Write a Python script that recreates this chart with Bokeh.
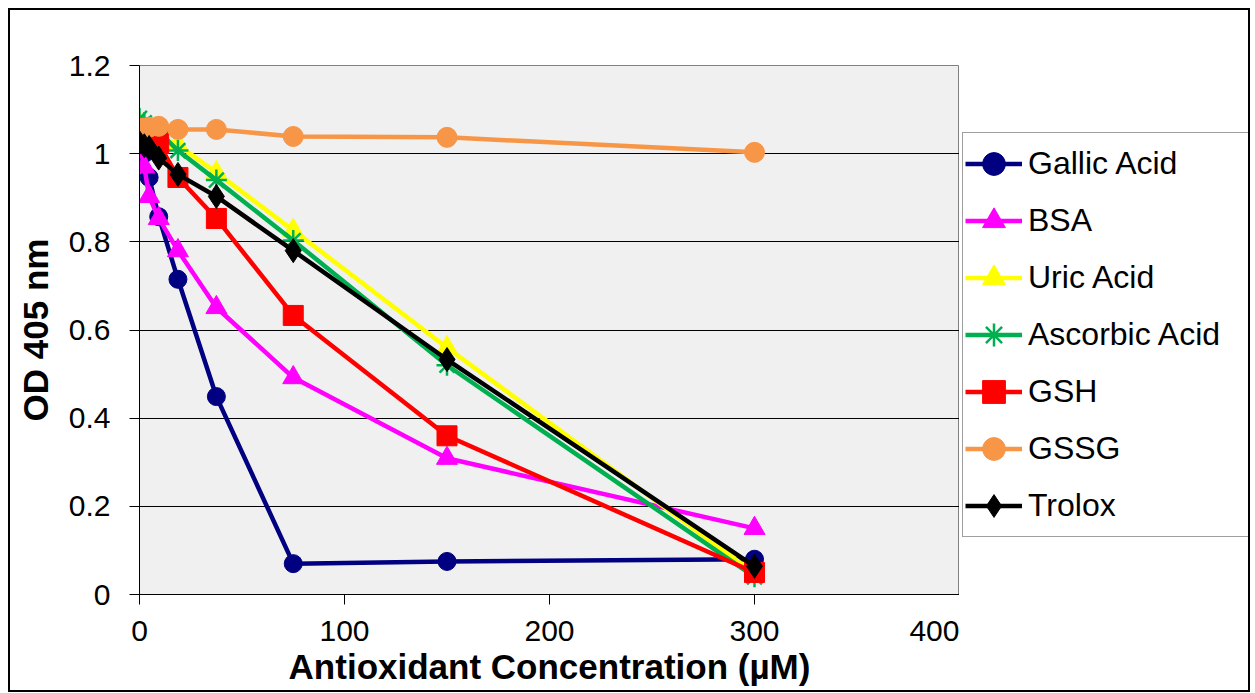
from bokeh.plotting import figure
from bokeh.layouts import row
from bokeh.models import FixedTicker, Range1d, Legend, LegendItem
from bokeh.embed import file_html
from bokeh.resources import INLINE

# Data
conc = [0, 2.34, 4.69, 9.375, 18.75, 37.5, 75, 150, 300]
gallic = [1.03, 1.00, 0.946, 0.857, 0.715, 0.449, 0.070, 0.075, 0.080]
bsa = [1.02, 0.97, 0.903, 0.853, 0.780, 0.651, 0.492, 0.309, 0.150]
uric = [1.07, 1.06, 1.05, 1.04, 1.02, 0.957, 0.826, 0.560, 0.048]
ascorbic = [1.08, 1.07, 1.06, 1.05, 1.007, 0.940, 0.803, 0.520, 0.040]
gsh = [1.057, 1.055, 1.05, 1.023, 0.946, 0.853, 0.633, 0.360, 0.050]
gssg = [1.057, 1.058, 1.06, 1.062, 1.055, 1.055, 1.039, 1.037, 1.003]
trolox = [1.025, 1.018, 1.014, 0.99, 0.953, 0.903, 0.780, 0.533, 0.064]

series_names = ["Gallic Acid", "BSA", "Uric Acid", "Ascorbic Acid", "GSH", "GSSG", "Trolox"]
series_values = [gallic, bsa, uric, ascorbic, gsh, gssg, trolox]
series_colors = ["#000080", "#FF00FF", "#FFFF00", "#00B050", "#FF0000", "#F79646", "#000000"]
series_markers = ["circle", "triangle", "triangle", "asterisk", "square", "circle", "diamond"]
series_sizes = [18, 21, 21, 21, 20, 20, 24]

x_ticks = [0, 100, 200, 300, 400]
y_ticks = [0, 0.2, 0.4, 0.6, 0.8, 1, 1.2]

FONT = "Liberation Sans"

p = figure(frame_width=820, frame_height=529,
           min_border_left=129, min_border_right=0,
           min_border_top=55, min_border_bottom=96,
           x_range=Range1d(0, 400), y_range=Range1d(0, 1.2),
           output_backend="svg", toolbar_location=None)

p.background_fill_color = "#F0F0F0"
p.border_fill_color = "white"
p.outline_line_color = "#808080"
p.outline_line_width = 1

p.xgrid.visible = False
p.ygrid.grid_line_color = "black"
p.ygrid.grid_line_width = 1
p.ygrid.ticker = FixedTicker(ticks=y_ticks)

p.xaxis.ticker = FixedTicker(ticks=x_ticks)
p.yaxis.ticker = FixedTicker(ticks=y_ticks)
p.yaxis.major_label_overrides = {0: "0", 1: "1"}
for ax in (p.xaxis, p.yaxis):
    ax.axis_line_color = "black"
    ax.axis_line_width = 1
    ax.major_tick_line_color = "black"
    ax.major_tick_in = 0
    ax.major_tick_out = 10
    ax.minor_tick_line_color = None
    ax.major_label_text_font = FONT
    ax.major_label_text_font_size = "30px"
    ax.major_label_text_color = "black"
    ax.axis_label_text_font = FONT
    ax.axis_label_text_font_style = "bold"
    ax.axis_label_text_font_size = "35px"
    ax.axis_label_text_color = "black"

p.xaxis.axis_label = "Antioxidant Concentration (µM)"
p.yaxis.axis_label = "OD 405 nm"
p.xaxis.major_label_standoff = 16
p.yaxis.major_label_standoff = 19
p.xaxis.axis_label_standoff = 3
p.yaxis.axis_label_standoff = 11

# Legend panel: a separate figure beside the plot; its own copies of the series
# lie outside its (empty) view, only the legend is seen.
lf = figure(width=289, height=680, min_border=0,
            x_range=Range1d(1000, 1001), y_range=Range1d(1000, 1001),
            x_axis_type=None, y_axis_type=None,
            output_backend="svg", toolbar_location=None)
lf.xgrid.visible = False
lf.ygrid.visible = False
lf.outline_line_color = None
lf.background_fill_color = "white"
lf.border_fill_color = "white"

items = []
for name, vals, col, mk, sz in zip(series_names, series_values, series_colors, series_markers, series_sizes):
    p.line(conc, vals, line_color=col, line_width=4.5)
    l2 = lf.line(conc, vals, line_color=col, line_width=4.5)
    if mk == "asterisk":
        p.scatter(conc, vals, marker=mk, size=sz, line_color=col, line_width=2.5)
        s2 = lf.scatter(conc, vals, marker=mk, size=sz, line_color=col, line_width=2.5)
    else:
        p.scatter(conc, vals, marker=mk, size=sz, fill_color=col, line_color=col, line_width=1)
        s2 = lf.scatter(conc, vals, marker=mk, size=sz, fill_color=col, line_color=col, line_width=1)
    items.append(LegendItem(label=name, renderers=[l2, s2]))

legend = Legend(items=items, location=(3, 57))
legend.label_text_font = FONT
legend.label_text_font_size = "32px"
legend.label_text_color = "black"
legend.label_standoff = 6
legend.label_width = 219
legend.glyph_width = 57
legend.glyph_height = 57
legend.label_height = 57
legend.spacing = 0
legend.padding = 2
legend.margin = 0
legend.border_line_color = "#404040"
legend.border_line_width = 1
legend.background_fill_color = "white"
legend.background_fill_alpha = 1
lf.add_layout(legend, "center")

layout = row(p, lf)
layout.styles = {"border": "2px solid black", "margin-left": "8px", "margin-top": "8px",
                 "width": "fit-content"}

open("out.html", "w").write(file_html(layout, INLINE))
